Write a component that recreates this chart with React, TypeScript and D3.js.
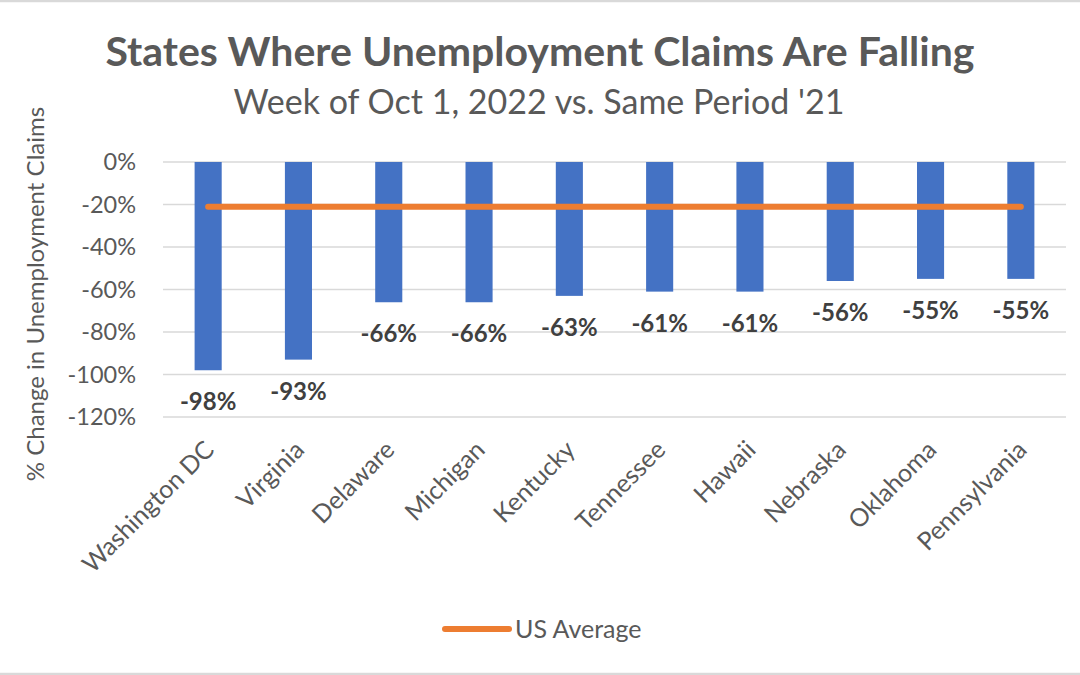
import React from 'react';
import * as d3 from 'd3';

const states = [
  'Washington DC', 'Virginia', 'Delaware', 'Michigan', 'Kentucky',
  'Tennessee', 'Hawaii', 'Nebraska', 'Oklahoma', 'Pennsylvania',
];
const changes = [-98, -93, -66, -66, -63, -61, -61, -56, -55, -55];
const usAverage = -21;
const yTicks = [0, -20, -40, -60, -80, -100, -120];

const W = 1080;
const H = 675;
const FONT = 'Lato, "Open Sans", sans-serif';

export default function App() {
  const x = d3.scaleBand<string>()
    .domain(states)
    .range([163, 1066])
    .paddingInner(0.7)
    .paddingOuter(0.35);

  const y = d3.scaleLinear().domain([-120, 0]).range([417, 162]);

  const first = x(states[0])! + x.bandwidth() / 2;
  const last = x(states[states.length - 1])! + x.bandwidth() / 2;

  return (
    <svg
      width={W}
      height={H}
      style={{ position: 'absolute', left: 0, top: 0, background: '#fff' }}
      fontFamily={FONT}
    >
      <rect x={0} y={0} width={W} height={H} fill="#fff" />
      <line x1={0} x2={W} y1={1} y2={1} stroke="#d9d9d9" strokeWidth={2.5} />
      <line x1={0} x2={W} y1={674} y2={674} stroke="#d9d9d9" strokeWidth={2.5} />

      {/* titles */}
      <text x={540} y={66} textAnchor="middle" fontSize={41} fontWeight="bold" fill="#595959">
        States Where Unemployment Claims Are Falling
      </text>
      <text x={539} y={114} textAnchor="middle" fontSize={34} fill="#595959">
        Week of Oct 1, 2022 vs. Same Period '21
      </text>

      {/* y axis title */}
      <text
        transform={`translate(44, 294) rotate(-90)`}
        textAnchor="middle"
        fontSize={24}
        fill="#595959"
      >
        % Change in Unemployment Claims
      </text>

      {/* gridlines + ticks */}
      {yTicks.map(t => (
        <g key={t}>
          <line x1={163} x2={1066} y1={y(t)} y2={y(t)} stroke="#d9d9d9" strokeWidth={1.5} />
          <text x={136} y={y(t)} dy="0.36em" textAnchor="end" fontSize={23.5} fill="#595959">
            {`${t}%`}
          </text>
        </g>
      ))}

      {/* bars */}
      {states.map((s, i) => (
        <rect
          key={s}
          x={x(s)}
          y={y(0)}
          width={x.bandwidth()}
          height={y(changes[i]) - y(0)}
          fill="#4472C4"
        />
      ))}

      {/* US average line */}
      <line
        x1={first}
        x2={last}
        y1={y(usAverage)}
        y2={y(usAverage)}
        stroke="#ED7D31"
        strokeWidth={6}
        strokeLinecap="round"
      />

      {/* data labels */}
      {states.map((s, i) => (
        <text
          key={s}
          x={x(s)! + x.bandwidth() / 2}
          y={y(changes[i]) + 40}
          textAnchor="middle"
          fontSize={24}
          fontWeight="bold"
          fill="#404040"
        >
          {`${changes[i]}%`}
        </text>
      ))}

      {/* category labels */}
      {states.map(s => (
        <text
          key={s}
          transform={`translate(${x(s)! + x.bandwidth() / 2 - 5}, 439) rotate(-45)`}
          textAnchor="end"
          dy="0.7em"
          fontSize={25}
          fill="#595959"
        >
          {s}
        </text>
      ))}

      {/* legend */}
      <line x1={445} x2={509} y1={629} y2={629} stroke="#ED7D31" strokeWidth={6} strokeLinecap="round" />
      <text x={515} y={629} dy="0.35em" fontSize={25} fill="#595959">
        US Average
      </text>
    </svg>
  );
}
